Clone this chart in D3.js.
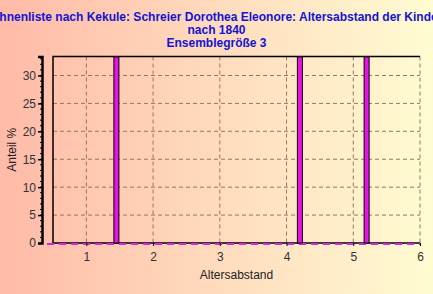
<!DOCTYPE html>
<html>
<head>
<meta charset="utf-8">
<script src="https://cdn.jsdelivr.net/npm/d3@7"></script>
<style>
  body { margin: 0; }
  svg { display: block; font-family: Arial, "Liberation Sans", sans-serif; }
</style>
</head>
<body>
<svg id="chart" width="433" height="294"></svg>
<script>
const titleLines = ['Ahnenliste nach Kekule: Schreier Dorothea Eleonore: Altersabstand der Kinder', 'nach 1840', 'Ensemblegröße 3']
const barX = [1.45, 4.2, 5.2]
const barValues = [33.33, 33.33, 33.33]
const xTicks = [1, 2, 3, 4, 5, 6]
const yTicks = [0, 5, 10, 15, 20, 25, 30]

const svg = d3.select('#chart')
const width = 433
const height = 294
const margin = { top: 56.5, right: 13, bottom: 51, left: 53 }

const defs = svg.append('defs')
const grad = defs.append('linearGradient').attr('id', 'bg')
  .attr('x1', '0%').attr('x2', '100%').attr('y1', '0%').attr('y2', '0%')
grad.append('stop').attr('offset', '0%').attr('stop-color', '#ffbaa8')
grad.append('stop').attr('offset', '100%').attr('stop-color', '#fffcd2')

svg.append('rect').attr('width', width).attr('height', height).attr('fill', 'url(#bg)')

const x = d3.scaleLinear()
  .domain([0.5, 6])
  .range([margin.left, width - margin.right])

const y = d3.scaleLinear()
  .domain([0, 33.4])
  .range([height - margin.bottom, margin.top])

// title
svg.append('g').selectAll('text')
  .data(titleLines)
  .join('text')
    .attr('x', width / 2)
    .attr('y', (d, i) => 21 + i * 13)
    .attr('text-anchor', 'middle')
    .attr('font-size', 12)
    .attr('font-weight', 'bold')
    .attr('fill', '#1414d4')
    .text(d => d)

// grid
const grid = svg.append('g')
  .attr('stroke', '#937766')
  .attr('stroke-dasharray', '4,3')
grid.selectAll('.gx')
  .data(xTicks)
  .join('line')
    .attr('x1', d => x(d)).attr('x2', d => x(d))
    .attr('y1', y.range()[1]).attr('y2', y.range()[0])
grid.selectAll('.gy')
  .data(yTicks.filter(d => d > 0))
  .join('line')
    .attr('x1', x.range()[0]).attr('x2', x.range()[1])
    .attr('y1', d => y(d)).attr('y2', d => y(d))

// frame
svg.append('path')
  .attr('d', `M${x.range()[1]},${y.range()[1]}H${x.range()[0]}V${y.range()[0]}H${x.range()[1]}`)
  .attr('fill', 'none')
  .attr('stroke', '#000')
  .attr('stroke-width', 1.5)

// zero line in series colour
svg.append('line')
  .attr('x1', 47).attr('x2', x.range()[1])
  .attr('y1', y(0) + 1).attr('y2', y(0) + 1)
  .attr('stroke', '#e020e0')
  .attr('stroke-width', 2)
  .attr('stroke-dasharray', '7,5')

// bars
svg.append('g').selectAll('rect')
  .data(barX)
  .join('rect')
    .attr('x', d => x(d) - 2.5)
    .attr('width', 5)
    .attr('y', (d, i) => y(barValues[i]))
    .attr('height', (d, i) => y(0) - y(barValues[i]))
    .attr('fill', '#e614e6')
    .attr('stroke', '#000')
    .attr('stroke-width', 1)

// y axis
const yAxis = svg.append('g')
  .attr('transform', 'translate(42,0)')
  .call(d3.axisLeft(y).tickValues(yTicks).tickFormat(d3.format('d')).tickSize(4).tickPadding(2))
yAxis.select('.domain').attr('stroke-width', 2.5)
yAxis.selectAll('text').attr('font-size', 12).attr('fill', '#333').attr('font-family', 'Arial, "Liberation Sans", sans-serif')
yAxis.selectAll('.tick line').attr('stroke-width', 1.5)
// minor ticks
yAxis.selectAll('.minor')
  .data(d3.range(0, 33.4, 1))
  .join('line')
    .attr('x1', -2).attr('x2', 0)
    .attr('y1', d => y(d)).attr('y2', d => y(d))
    .attr('stroke', '#000')

// x axis labels
const xAxis = svg.append('g')
  .attr('transform', `translate(0,${y(0)})`)
  .call(d3.axisBottom(x).tickValues(xTicks).tickFormat(d3.format('d')).tickSize(3).tickPadding(6))
xAxis.select('.domain').remove()
xAxis.selectAll('text').attr('font-size', 12).attr('fill', '#333').attr('font-family', 'Arial, "Liberation Sans", sans-serif')

// axis titles
svg.append('text')
  .attr('x', (x.range()[0] + x.range()[1]) / 2)
  .attr('y', 279)
  .attr('text-anchor', 'middle')
  .attr('font-size', 12)
  .attr('fill', '#222')
  .text('Altersabstand')

svg.append('text')
  .attr('transform', `translate(16,${(y.range()[0] + y.range()[1]) / 2}) rotate(-90)`)
  .attr('text-anchor', 'middle')
  .attr('font-size', 12)
  .attr('fill', '#222')
  .text('Anteil %')
</script>
</body>
</html>
